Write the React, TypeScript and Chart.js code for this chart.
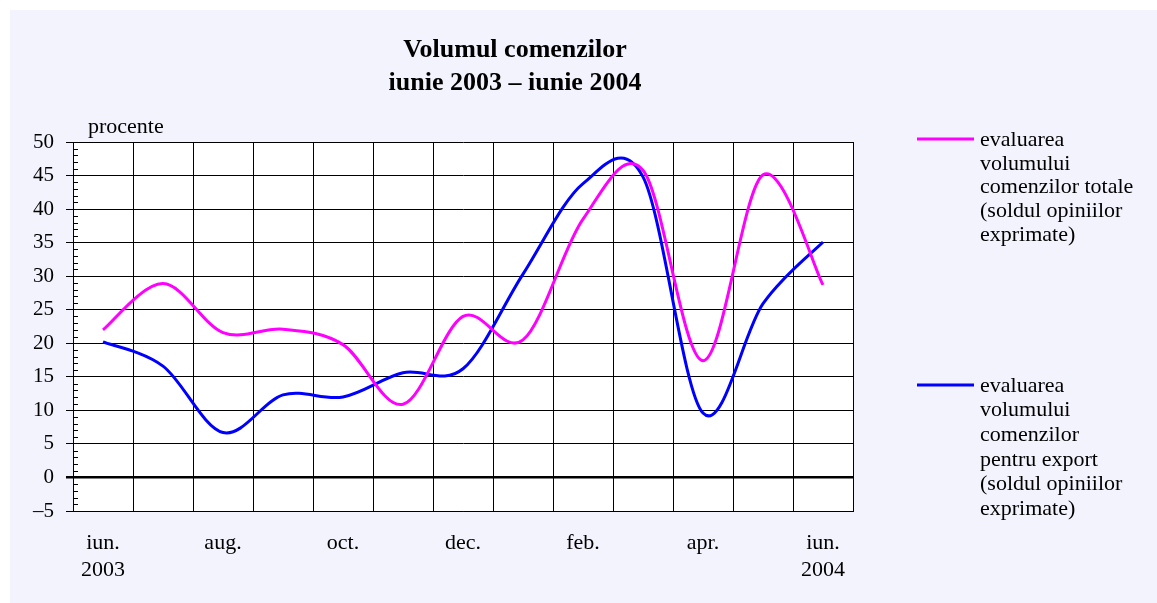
import React, { useEffect, useRef } from "react";
import { Chart, registerables } from "chart.js";

Chart.register(...registerables);

const categories = ["iun. 2003", "iul.", "aug.", "sep.", "oct.", "nov.", "dec.", "ian.", "feb.", "mar.", "apr.", "mai", "iun. 2004"];
const tickLabels: (string | string[])[] = [["iun.", "2003"], "", "aug.", "", "oct.", "", "dec.", "", "feb.", "", "apr.", "", ["iun.", "2004"]];
const totalOrders = [22.0, 28.9, 21.6, 22.1, 19.8, 10.9, 24.0, 20.5, 38.5, 45.8, 17.4, 45.1, 28.7];
const exportOrders = [20.2, 16.6, 6.7, 12.3, 12.0, 15.6, 16.2, 30.3, 43.8, 44.8, 9.6, 25.9, 35.1];
const titleLines = ["Volumul comenzilor", "iunie 2003 – iunie 2004"];
const yAxisLabel = "procente";
const legendTotal = ["evaluarea", "volumului", "comenzilor totale", "(soldul opiniilor", "exprimate)"];
const legendExport = ["evaluarea", "volumului", "comenzilor", "pentru export", "(soldul opiniilor", "exprimate)"];

const SERIF = '"Liberation Serif", "Times New Roman", serif';
const PINK = "#ff00ff";
const BLUE = "#0000ff";
const SMOOTH = 1 / 6;

// Excel-like (unweighted Catmull-Rom) smoothing of the library-computed points
const smoothPlugin = {
  id: "excelSmooth",
  beforeDatasetsDraw(chart: any) {
    chart.data.datasets.forEach((_d: any, di: number) => {
      const meta = chart.getDatasetMeta(di);
      const line = meta.dataset;
      if (line && typeof line.updateControlPoints === "function") {
        line.updateControlPoints(chart.chartArea, "x");
      }
      const pts = meta.data;
      const n = pts.length;
      for (let i = 0; i < n; i++) {
        const p = pts[i];
        const prev = pts[Math.max(0, i - 1)];
        const next = pts[Math.min(n - 1, i + 1)];
        const tx = next.x - prev.x;
        const ty = next.y - prev.y;
        p.cp1x = p.x - SMOOTH * tx;
        p.cp1y = p.y - SMOOTH * ty;
        p.cp2x = p.x + SMOOTH * tx;
        p.cp2y = p.y + SMOOTH * ty;
      }
    });
  },
};

const decorPlugin = {
  id: "decor",
  beforeDraw(chart: any) {
    const { ctx, width, height, chartArea } = chart;
    ctx.save();
    ctx.fillStyle = "#ffffff";
    ctx.fillRect(0, 0, width, height);
    ctx.fillStyle = "#f3f3fd";
    ctx.fillRect(10, 10, width - 10, height - 10);
    ctx.fillStyle = "#ffffff";
    ctx.fillRect(chartArea.left, chartArea.top, chartArea.right - chartArea.left, chartArea.bottom - chartArea.top);
    ctx.restore();
  },
  afterDraw(chart: any) {
    const { ctx, chartArea, scales } = chart;
    const y = scales.y;
    ctx.save();
    ctx.strokeStyle = "#000";
    ctx.lineWidth = 1;
    for (let v = -5; v <= 50; v++) {
      if (v % 5 === 0) continue;
      const py = Math.round(y.getPixelForValue(v)) + 0.5;
      ctx.beginPath();
      ctx.moveTo(chartArea.left, py);
      ctx.lineTo(chartArea.left + 5, py);
      ctx.stroke();
    }
    ctx.fillStyle = "#000";
    ctx.textAlign = "center";
    ctx.textBaseline = "middle";
    ctx.font = `bold 26px ${SERIF}`;
    titleLines.forEach((t, i) => ctx.fillText(t, 515, 50 + i * 33));
    ctx.textAlign = "left";
    ctx.font = `22px ${SERIF}`;
    ctx.fillText(yAxisLabel, 88, 127);
    const drawEntry = (lines: string[], color: string, y0: number, step: number) => {
      ctx.strokeStyle = color;
      ctx.lineWidth = 3;
      ctx.beginPath();
      ctx.moveTo(917, y0);
      ctx.lineTo(974, y0);
      ctx.stroke();
      ctx.fillStyle = "#000";
      ctx.font = `22px ${SERIF}`;
      ctx.textAlign = "left";
      ctx.textBaseline = "middle";
      lines.forEach((t, i) => ctx.fillText(t, 980, y0 + 1 + i * step));
    };
    drawEntry(legendTotal, PINK, 139, 23.8);
    drawEntry(legendExport, BLUE, 385, 24.6);
    ctx.restore();
  },
};

export default function App() {
  const ref = useRef<HTMLCanvasElement | null>(null);
  useEffect(() => {
    document.body.style.margin = "0";
    const canvas = ref.current!;
    const chart = new Chart(canvas, {
      type: "line",
      data: {
        labels: categories,
        datasets: [
          {
            label: legendTotal.join(" "),
            data: totalOrders,
            borderColor: PINK,
            backgroundColor: PINK,
            borderWidth: 3,
            pointRadius: 0,
            tension: 0.4,
            fill: false,
          },
          {
            label: legendExport.join(" "),
            data: exportOrders,
            borderColor: BLUE,
            backgroundColor: BLUE,
            borderWidth: 3,
            pointRadius: 0,
            tension: 0.4,
            fill: false,
          },
        ],
      },
      options: {
        responsive: false,
        animation: false,
        devicePixelRatio: 1,
        layout: { padding: { left: 0, right: 304, top: 142, bottom: 0 } },
        plugins: {
          legend: { display: false },
          title: { display: false },
          tooltip: { enabled: false },
        },
        scales: {
          x: {
            type: "category",
            offset: true,
            grid: { offset: true, color: "#000", lineWidth: 1, drawTicks: false },
            border: { color: "#000", width: 1 },
            ticks: {
              autoSkip: false,
              maxRotation: 0,
              padding: 18,
              color: "#000",
              font: { family: SERIF, size: 22, lineHeight: 1.25 },
              callback: (_v: any, i: number) => tickLabels[i],
            },
            afterFit: (scale: any) => {
              scale.height = 92;
            },
          },
          y: {
            min: -5,
            max: 50,
            grid: {
              color: "#000",
              lineWidth: (c: any) => (c.tick && c.tick.value === 0 ? 2.5 : 1),
              drawTicks: true,
              tickLength: 7,
            },
            border: { color: "#000", width: 1 },
            ticks: {
              stepSize: 5,
              padding: 12,
              color: "#000",
              font: { family: SERIF, size: 21 },
              callback: (v: any) => (v < 0 ? "–" + Math.abs(v) : String(v)),
            },
            afterFit: (scale: any) => {
              scale.width = 73;
            },
          },
        },
      },
      plugins: [smoothPlugin, decorPlugin],
    });
    return () => chart.destroy();
  }, []);
  return <canvas ref={ref} width={1157} height={603} style={{ display: "block" }} />;
}
